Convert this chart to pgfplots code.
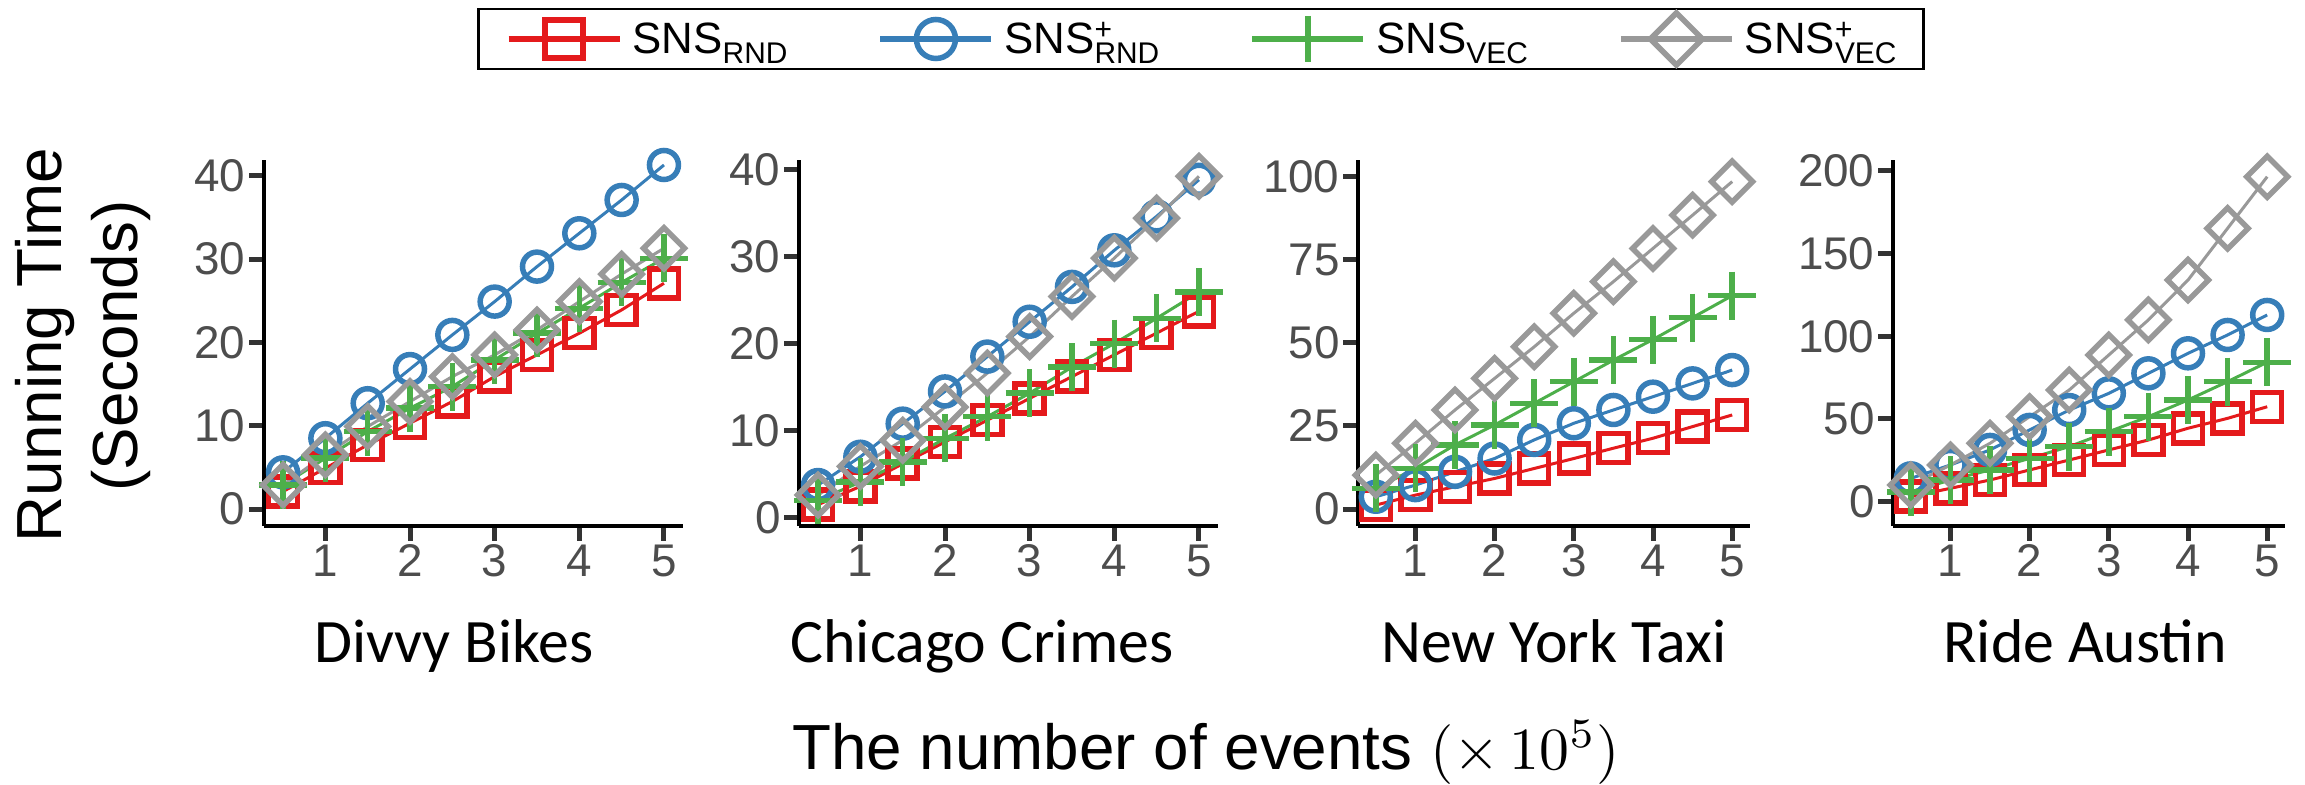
\documentclass[border=0pt]{standalone}
\usepackage[no-math]{fontspec}
\usepackage{graphicx}
\usepackage{pgfplots}
\pgfplotsset{compat=1.18}
\setmainfont{Liberation Sans}
\newfontfamily\carlito{Carlito}
\definecolor{cred}{HTML}{E41A1C}
\definecolor{cblue}{HTML}{377EB8}
\definecolor{cgreen}{HTML}{4DAF4A}
\definecolor{cgray}{HTML}{999999}
\definecolor{tickc}{HTML}{333333}
\definecolor{labc}{HTML}{4D4D4D}
\newcommand\sub[1]{\raisebox{-10bp}{\fontsize{30}{30}\selectfont #1}}
\newcommand\supsub[1]{\rlap{\raisebox{14bp}{\fontsize{30}{30}\selectfont +}}\sub{#1}}
\pgfplotsset{
  panel/.style={
    scale only axis, height=366bp, anchor=south west,
    axis x line*=bottom, axis y line*=left,
    axis line style={-, line width=4.5bp, black},
    xmin=0.275, xmax=5.225, xtick={1,2,3,4,5},
    tick align=outside, major tick length=15bp,
    major tick style={line width=5bp, tickc},
    tick label style={font=\fontsize{46}{50}\selectfont, text=labc},
    /pgf/number format/assume math mode=true,
    clip=false,
  },
  sred/.style={cred, line width=3bp, mark=square, mark size=14.5bp, mark options={line width=5.5bp, solid}},
  sblue/.style={cblue, line width=3bp, mark=o, mark size=14.5bp, mark options={line width=5.5bp, solid}},
  sgreen/.style={cgreen, line width=3bp, mark=+, mark size=24bp, mark options={line width=5.5bp, solid}},
  sgray/.style={cgray, line width=3bp, mark=square, mark size=14.5bp, mark options={line width=5.5bp, solid, rotate=45}},
}
\begin{document}
\begin{tikzpicture}
\path[use as bounding box] (0,0) rectangle (2305bp,785bp);

% Panel 1: Divvy Bikes
\begin{axis}[panel, at={(264bp,259bp)}, width=419bp,
  ymin=-2.04, ymax=41.9, ytick={0,10,20,30,40},
  legend columns=4,
  legend style={at={(2.2363,1.3306)}, anchor=center, draw=black, line width=2.5bp,
    inner xsep=27bp, inner ysep=4bp,
    font=\fontsize{44}{48}\selectfont,
    nodes={inner sep=0pt, anchor=west},
    /tikz/every odd column/.append style={column sep=10bp},
    /tikz/every even column/.append style={column sep=90bp}},
  legend image code/.code={\draw[mark repeat=2,mark phase=2,#1] plot coordinates {(0bp,0bp) (55.5bp,0bp) (111bp,0bp)};},
]
\addlegendimage{cred, line width=6bp, mark=square, mark size=19bp, mark options={line width=5.5bp, solid}}
\addlegendentry{SNS\sub{RND}}
\addlegendimage{cblue, line width=6bp, mark=o, mark size=19.5bp, mark options={line width=5.5bp, solid}}
\addlegendentry{SNS\supsub{RND}}
\addlegendimage{cgreen, line width=6bp, mark=+, mark size=23bp, mark options={line width=5.5bp, solid}}
\addlegendentry{SNS\sub{VEC}}
\addlegendimage{cgray, line width=6bp, mark=square, mark size=18.4bp, mark options={line width=5.5bp, solid, rotate=45}}
\addlegendentry{SNS\supsub{VEC}}
\addplot[sred] coordinates {(0.5,2.1)(1,4.9)(1.5,7.7)(2,10.3)(2.5,12.9)(3,15.9)(3.5,18.5)(4,21.1)(4.5,23.9)(5,27.1)};
\addplot[sblue] coordinates {(0.5,4.4)(1,8.5)(1.5,12.7)(2,16.8)(2.5,20.9)(3,24.9)(3.5,29.1)(4,33.1)(4.5,37.1)(5,41.3)};
\addplot[sgreen] coordinates {(0.5,2.9)(1,6.1)(1.5,9.3)(2,12.1)(2.5,14.7)(3,17.9)(3.5,21.1)(4,24.1)(4.5,27.2)(5,30.1)};
\addplot[sgray] coordinates {(0.5,2.9)(1,6.5)(1.5,9.9)(2,12.9)(2.5,15.9)(3,18.5)(3.5,21.5)(4,24.9)(4.5,28.2)(5,31.3)};
\end{axis}

% Panel 2: Chicago Crimes
\begin{axis}[panel, at={(799bp,259bp)}, width=419bp,
  ymin=-0.95, ymax=41.07, ytick={0,10,20,30,40}]
\addplot[sred] coordinates {(0.5,1.5)(1,3.6)(1.5,6.2)(2,8.7)(2.5,11.2)(3,13.7)(3.5,16.2)(4,18.7)(4.5,21.2)(5,23.7)};
\addplot[sblue] coordinates {(0.5,3.75)(1,7.0)(1.5,10.8)(2,14.5)(2.5,18.5)(3,22.5)(3.5,26.5)(4,30.7)(4.5,34.6)(5,38.8)};
\addplot[sgreen] coordinates {(0.5,2.0)(1,4.1)(1.5,6.4)(2,9.1)(2.5,11.6)(3,14.3)(3.5,17.3)(4,20.0)(4.5,22.9)(5,25.9)};
\addplot[sgray] coordinates {(0.5,2.6)(1,5.9)(1.5,8.9)(2,12.7)(2.5,16.6)(3,20.8)(3.5,25.4)(4,29.8)(4.5,34.4)(5,39.2)};
\end{axis}

% Panel 3: New York Taxi
\begin{axis}[panel, at={(1358bp,259bp)}, width=392bp,
  ymin=-5.1, ymax=105, ytick={0,25,50,75,100}]
\addplot[sred] coordinates {(0.5,1.2)(1,4.2)(1.5,6.7)(2,9.2)(2.5,12.2)(3,15.2)(3.5,18.3)(4,21.3)(4.5,24.8)(5,28.3)};
\addplot[sblue] coordinates {(0.5,3.7)(1,7.2)(1.5,11.2)(2,15.2)(2.5,20.8)(3,25.8)(3.5,29.8)(4,33.8)(4.5,37.8)(5,41.8)};
\addplot[sgreen] coordinates {(0.5,6.2)(1,12.2)(1.5,19.3)(2,25.3)(2.5,31.8)(3,38.3)(3.5,44.8)(4,51.0)(4.5,57.6)(5,64.2)};
\addplot[sgray] coordinates {(0.5,10.2)(1,19.8)(1.5,29.8)(2,39.3)(2.5,48.8)(3,58.9)(3.5,68.4)(4,78.4)(4.5,88.4)(5,98.5)};
\end{axis}

% Panel 4: Ride Austin
\begin{axis}[panel, at={(1893bp,259bp)}, width=392bp,
  ymin=-14.7, ymax=206.6, ytick={0,50,100,150,200}]
\addplot[sred] coordinates {(0.5,3.0)(1,8.1)(1.5,13.1)(2,19.2)(2.5,25.2)(3,31.3)(3.5,37.3)(4,44.4)(4.5,50.4)(5,57.4)};
\addplot[sblue] coordinates {(0.5,14.1)(1,22.2)(1.5,31.3)(2,43.4)(2.5,55.4)(3,65.5)(3.5,77.6)(4,89.7)(4.5,100.8)(5,112.9)};
\addplot[sgreen] coordinates {(0.5,6.0)(1,13.1)(1.5,19.2)(2,26.2)(2.5,33.3)(3,42.3)(3.5,51.4)(4,61.5)(4.5,72.6)(5,84.3)};
\addplot[sgray] coordinates {(0.5,10.1)(1,22.2)(1.5,35.3)(2,51.4)(2.5,67.5)(3,88.7)(3.5,109.9)(4,134.0)(4.5,165.3)(5,196.5)};
\end{axis}

% Titles
\node[font=\carlito\fontsize{62}{70}\selectfont, anchor=base] at (454bp,122bp) {Divvy Bikes};
\node[font=\carlito\fontsize{62}{70}\selectfont, anchor=base] at (982bp,122bp) {Chicago Crimes};
\node[font=\carlito\fontsize{62}{70}\selectfont, anchor=base] at (1554bp,122bp) {New York Taxi};
\node[font=\carlito\fontsize{62}{70}\selectfont, anchor=base] at (2085bp,122bp) {Ride Austin};
\node[font=\fontsize{64}{70}\selectfont, anchor=base] at (1206bp,15.5bp) {The number of events {\fontsize{10}{12}\selectfont\scalebox{6.0}{$(\times\,10^{5})$}}};
\node[rotate=90, anchor=base, font=\fontsize{64}{70}\selectfont] at (61bp,440bp) {Running Time};
\node[rotate=90, anchor=base, font=\fontsize{64}{70}\selectfont] at (137bp,439bp) {(Seconds)};
\end{tikzpicture}
\end{document}
